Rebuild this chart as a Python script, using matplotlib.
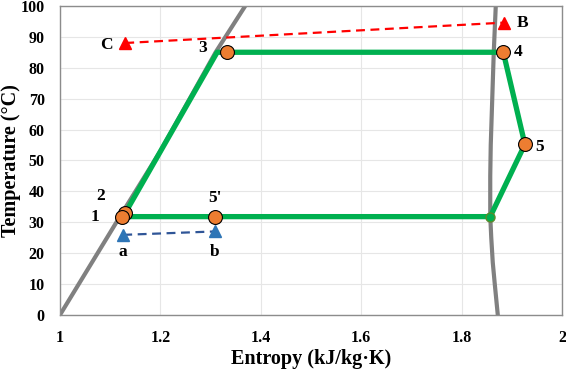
import numpy as np
import matplotlib as mpl
from matplotlib import pyplot as plt

mpl.rcParams['font.family'] = ['Liberation Serif', 'DejaVu Serif']
mpl.rcParams['font.weight'] = 'bold'

# saturation dome (gray)
sat_liq_s = [1.0, 1.06, 1.12, 1.20, 1.31, 1.369]
sat_liq_T = [0, 16, 32, 53, 85, 100]
sat_vap_s = [1.872, 1.869, 1.866, 1.862, 1.859, 1.857, 1.857, 1.858, 1.861, 1.864, 1.868]
sat_vap_T = [0, 5, 10, 17, 25, 32, 45, 55, 70, 85, 100]

# cycle path (green)
cycle_s = [1.126, 1.857, 1.926, 1.883, 1.313, 1.13]
cycle_T = [31.8, 31.8, 55.2, 85.0, 85.0, 33.0]

# state points (orange)
state_labels = ["2", "1", "3", "4", "5", "5'"]
state_s = [1.13, 1.124, 1.333, 1.883, 1.926, 1.308]
state_T = [33.0, 31.8, 85.0, 85.0, 55.2, 31.8]

# small green point
mid_s = [1.857]
mid_T = [31.8]

# heat source / sink streams
hot_labels = ["C", "B"]
hot_s = [1.13, 1.885]
hot_T = [88.0, 94.6]
cold_labels = ["a", "b"]
cold_s = [1.126, 1.308]
cold_T = [25.9, 27.0]

fig = plt.figure(figsize=(5.66, 3.70), dpi=100)
ax = fig.add_axes([0.106, 0.149, 0.887, 0.835])

ax.plot(sat_liq_s, sat_liq_T, color="#808080", lw=3, zorder=2)
ax.plot(sat_vap_s, sat_vap_T, color="#808080", lw=3, zorder=2)
ax.plot(cycle_s, cycle_T, color="#00B050", lw=3.8, zorder=3, solid_joinstyle="round")
ax.plot(mid_s, mid_T, "o", color="#00B050", mec="#5a8a2a", ms=6.5, zorder=4)
for i, (s, t) in enumerate(zip(state_s, state_T)):
    ax.plot(s, t, "o", color="#ED7D31", mec="black", mew=0.8, ms=10, zorder=5 + i)

ax.plot(hot_s, hot_T, color="#FF0000", lw=1.6, ls=(0, (4, 2.5)), zorder=3)
ax.plot(hot_s, hot_T, "^", color="#FF0000", ms=8, ls="none", zorder=5)
ax.plot(cold_s, cold_T, color="#2F5597", lw=1.6, ls=(0, (4, 2.5)), zorder=3)
ax.plot(cold_s, cold_T, "^", color="#2E75B6", ms=8, ls="none", zorder=5)

tkw = dict(fontsize=12.5, fontweight="bold", ha="center", va="center")
state_off = {"1": (-0.054, 0), "2": (-0.05, 5.5), "3": (-0.049, 1.5), "4": (0.03, 0),
             "5": (0.029, -1), "5'": (0.0, 6)}
for lab, s, t in zip(state_labels, state_s, state_T):
    dx, dy = state_off[lab]
    ax.text(s + dx, t + dy, lab, **tkw)
ax.text(hot_s[0] - 0.037, hot_T[0] - 0.7, hot_labels[0], **tkw)
ax.text(hot_s[1] + 0.036, hot_T[1], hot_labels[1], **tkw)
for lab, s, t in zip(cold_labels, cold_s, cold_T):
    ax.text(s, 20.5, lab, **tkw)

ax.set_xlim(1, 2)
ax.set_ylim(0, 100)
ax.set_xticks([1, 1.2, 1.4, 1.6, 1.8, 2])
ax.set_xticklabels(["1", "1.2", "1.4", "1.6", "1.8", "2"])
ax.set_yticks(np.arange(0, 101, 10))
ax.grid(True, color="#e6e6e6", lw=0.8)
ax.set_axisbelow(True)
for sp in ax.spines.values():
    sp.set_color("#8c8c8c")
    sp.set_linewidth(1)
ax.tick_params(axis="x", length=0, labelsize=11.5, pad=11)
ax.tick_params(axis="y", length=0, labelsize=11.5, pad=11)
for lbl in ax.get_xticklabels() + ax.get_yticklabels():
    lbl.set_fontweight("bold")
ax.set_xlabel("Entropy (kJ/kg·K)", fontsize=14.5, fontweight="bold", labelpad=2)
ax.set_ylabel("Temperature (°C)", fontsize=14.5, fontweight="bold")
ax.yaxis.set_label_coords(-0.077, 0.5)

fig.savefig("out.png", dpi=100)
